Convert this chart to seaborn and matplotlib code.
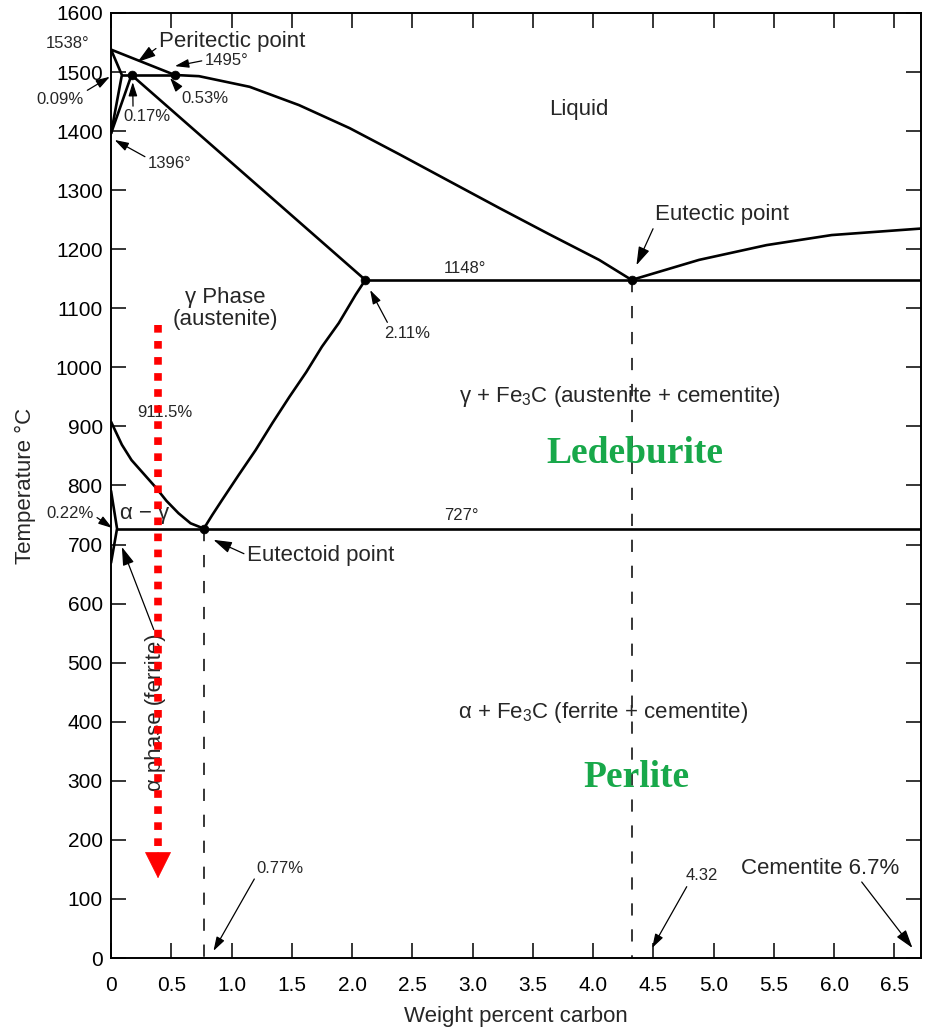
import numpy as np
import pandas as pd
import matplotlib
matplotlib.use("Agg")
import matplotlib.pyplot as plt
import seaborn as sns

# Iron-carbon phase diagram
liquidus_c = [0.0, 0.53, 0.73, 1.15, 1.56, 1.98, 2.39, 2.80, 3.22, 3.63, 4.05, 4.32]
liquidus_t = [1538, 1495, 1493, 1475, 1444, 1405, 1361, 1316, 1270, 1226, 1182, 1148]
liquidus_fe3c_c = [4.32, 4.88, 5.44, 5.98, 6.72]
liquidus_fe3c_t = [1148, 1182, 1207, 1224, 1235]
solidus_c = [0.17, 2.11]
solidus_t = [1495, 1148]
delta_c = [0.0, 0.09, 0.0]
delta_t = [1538, 1495, 1396]
delta_gamma_c = [0.17, 0.0]
delta_gamma_t = [1495, 1396]
peritectic_c = [0.09, 0.53]
peritectic_t = [1495, 1495]
a3_c = [0.0, 0.09, 0.17, 0.27, 0.37, 0.46, 0.56, 0.66, 0.77]
a3_t = [908, 869, 843, 820, 797, 774, 753, 736, 727]
acm_c = [0.77, 0.84, 0.92, 1.06, 1.20, 1.34, 1.48, 1.62, 1.75, 1.89, 2.03, 2.11]
acm_t = [727, 750, 775, 818, 860, 906, 950, 992, 1035, 1075, 1123, 1148]
alpha_c = [0.0, 0.05, 0.0]
alpha_t = [791, 727, 669]
eutectoid_c = [0.05, 6.72]
eutectoid_t = [727, 727]
eutectic_c = [2.11, 6.72]
eutectic_t = [1148, 1148]
drop_077_c = [0.77, 0.77]
drop_077_t = [727, 0]
drop_432_c = [4.32, 4.32]
drop_432_t = [1148, 0]
point_c = [0.17, 0.53, 2.11, 4.32, 0.77]
point_t = [1495, 1495, 1148, 1148, 727]
cooling_c = [0.39, 0.39]
cooling_t = [1072, 135]

x_ticks = [0, 0.5, 1.0, 1.5, 2.0, 2.5, 3.0, 3.5, 4.0, 4.5, 5.0, 5.5, 6.0, 6.5]
x_tick_labels = ["0", "0.5", "1.0", "1.5", "2.0", "2.5", "3.0", "3.5",
                 "4.0", "4.5", "5.0", "5.5", "6.0", "6.5"]
y_ticks = list(range(0, 1700, 100))

sns.set_theme(style="ticks")
plt.rcParams["font.family"] = ["Liberation Sans", "DejaVu Sans"]
plt.rcParams["mathtext.fontset"] = "custom"
plt.rcParams["mathtext.rm"] = "Liberation Sans"

fig = plt.figure(figsize=(9.33, 10.3), dpi=100)
ax = fig.add_axes([0.119, 0.0699, 0.868, 0.9175])

solid = [
    (liquidus_c, liquidus_t), (liquidus_fe3c_c, liquidus_fe3c_t),
    (solidus_c, solidus_t), (delta_c, delta_t), (delta_gamma_c, delta_gamma_t),
    (peritectic_c, peritectic_t), (a3_c, a3_t), (acm_c, acm_t),
    (alpha_c, alpha_t), (eutectoid_c, eutectoid_t), (eutectic_c, eutectic_t),
]
for cx, ty in solid:
    df = pd.DataFrame({"c": cx, "t": ty})
    sns.lineplot(data=df, x="c", y="t", sort=False, estimator=None,
                 color="black", lw=1.9, ax=ax)
    ax.lines[-1].set_solid_joinstyle("round")

for cx, ty in [(drop_077_c, drop_077_t), (drop_432_c, drop_432_t)]:
    df = pd.DataFrame({"c": cx, "t": ty})
    sns.lineplot(data=df, x="c", y="t", sort=False, estimator=None,
                 color="black", lw=1.1, ax=ax)
    ax.lines[-1].set_linestyle((0, (8, 9)))

sns.scatterplot(x=point_c, y=point_t, color="black", s=40, ax=ax, zorder=5,
                edgecolor="black")

ax.set_xlim(0, 6.72)
ax.set_ylim(0, 1600)
ax.set_xticks(x_ticks)
ax.set_xticklabels(x_tick_labels)
ax.set_yticks(y_ticks)
ax.tick_params(direction="in", length=11, width=1.1, top=True, right=True,
               labelsize=15, colors="black")
ax.tick_params(axis="x", pad=13)
ax.tick_params(axis="y", pad=6)
for s in ax.spines.values():
    s.set_linewidth(1.4)
    s.set_color("black")
ax.set_xlabel("Weight percent carbon", fontsize=16, labelpad=8)
ax.set_ylabel("Temperature °C", fontsize=16, labelpad=14)

small = 12
big = 16
arrow = dict(arrowstyle="-|>,head_length=0.7,head_width=0.22", lw=0.9,
             color="black", shrinkA=0, shrinkB=0)

ax.text(-0.357, 1548, "1538°", fontsize=small, ha="center", va="center")
ax.annotate("Peritectic point", xy=(0.22, 1517), xytext=(0.40, 1551),
            fontsize=big, ha="left", va="center", annotation_clip=False,
            arrowprops=dict(arrow, relpos=(0, 0.3)))
ax.annotate("1495°", xy=(0.53, 1510), xytext=(0.78, 1520), fontsize=small,
            ha="left", va="center", arrowprops=dict(arrow, relpos=(0, 0.5)))
ax.annotate("0.53%", xy=(0.49, 1490), xytext=(0.78, 1456), fontsize=small,
            ha="center", va="center", arrowprops=dict(arrow, relpos=(0.0, 0.9)))
ax.annotate("0.17%", xy=(0.18, 1483), xytext=(0.30, 1424), fontsize=small,
            ha="center", va="center", arrowprops=dict(arrow, relpos=(0.2, 1.0)))
ax.annotate("0.09%", xy=(-0.01, 1492), xytext=(-0.42, 1453), fontsize=small,
            ha="center", va="center", annotation_clip=False,
            arrowprops=dict(arrow, relpos=(1.0, 1.0)))
ax.annotate("1396°", xy=(0.03, 1385), xytext=(0.49, 1346), fontsize=small,
            ha="center", va="center", arrowprops=dict(arrow, relpos=(0.0, 0.8)))
ax.text(3.88, 1437, "Liquid", fontsize=big, ha="center", va="center")
ax.annotate("Eutectic point", xy=(4.36, 1173), xytext=(4.51, 1258),
            fontsize=big, ha="left", va="center",
            arrowprops=dict(arrow, relpos=(0.0, 0.0)))
ax.text(2.94, 1168, "1148°", fontsize=small, ha="center", va="center")
ax.annotate("2.11%", xy=(2.15, 1131), xytext=(2.46, 1058), fontsize=small,
            ha="center", va="center", arrowprops=dict(arrow, relpos=(0.1, 1.0)))
ax.text(0.95, 1100, "γ Phase\n(austenite)", fontsize=big, ha="center",
        va="center", linespacing=1.05)
ax.text(0.45, 924, "911.5%", fontsize=small, ha="center", va="center")
ax.text(4.22, 950, "γ + Fe$_\\mathregular{3}$C (austenite + cementite)",
        fontsize=big, ha="center", va="center")
ax.text(0.28, 753, "α − γ", fontsize=big, ha="center", va="center")
ax.annotate("0.22%", xy=(0.01, 728), xytext=(-0.34, 752), fontsize=small,
            ha="center", va="center", annotation_clip=False,
            arrowprops=dict(arrow, relpos=(1.0, 0.4)))
ax.text(2.91, 750, "727°", fontsize=small, ha="center", va="center")
ax.annotate("Eutectoid point", xy=(0.85, 708), xytext=(1.13, 682),
            fontsize=big, ha="left", va="center",
            arrowprops=dict(arrow, relpos=(0.0, 0.5)))
ax.annotate("α phase (ferrite)", xy=(0.09, 696), xytext=(0.365, 417),
            fontsize=big, ha="center", va="center", rotation=90,
            arrowprops=dict(arrow, relpos=(0.5, 1.0)))
ax.text(4.08, 415, "α + Fe$_\\mathregular{3}$C (ferrite + cementite)",
        fontsize=big, ha="center", va="center")
ax.annotate("Cementite 6.7%", xy=(6.65, 17), xytext=(5.88, 152),
            fontsize=big, ha="center", va="center", annotation_clip=False,
            arrowprops=dict(arrow, relpos=(0.75, 0.0)))
ax.annotate("0.77%", xy=(0.85, 12), xytext=(1.40, 152), fontsize=small,
            ha="center", va="center", arrowprops=dict(arrow, relpos=(0.0, 0.0)))
ax.annotate("4.32", xy=(4.49, 17), xytext=(4.90, 139), fontsize=small,
            ha="center", va="center", arrowprops=dict(arrow, relpos=(0.1, 0.0)))

green = "#18a84a"
ax.text(4.35, 855, "Ledeburite", fontsize=27, fontweight="bold", color=green,
        family=["Liberation Serif"], ha="center", va="center")
ax.text(4.36, 306, "Perlite", fontsize=27, fontweight="bold", color=green,
        family=["Liberation Serif"], ha="center", va="center")

# red dotted cooling arrow
ax.plot(cooling_c, [cooling_t[0], cooling_t[1] + 40], color="red", lw=5.5,
        ls=(0, (1, 1.1)), dash_capstyle="butt", zorder=8)
ax.annotate("", xy=(cooling_c[1], cooling_t[1]),
            xytext=(cooling_c[0], cooling_t[1] + 44),
            arrowprops=dict(arrowstyle="-|>,head_length=1.0,head_width=0.5",
                            lw=0.5, color="red", shrinkA=0, shrinkB=0,
                            mutation_scale=18), zorder=8)

fig.savefig("out.png", dpi=100, facecolor="white")
